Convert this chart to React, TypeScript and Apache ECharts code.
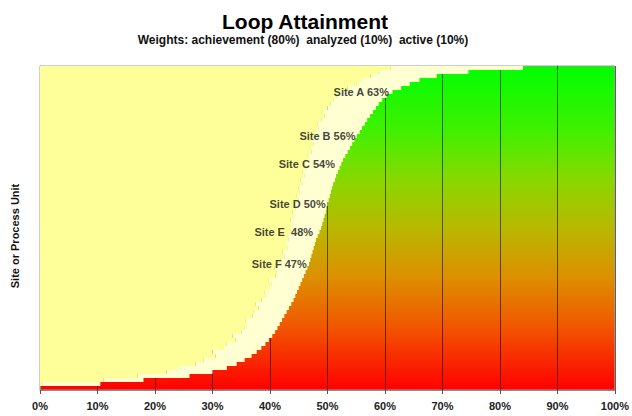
import React, { useEffect, useRef } from "react";
import * as echarts from "echarts";

// Attainment boundary per site / process unit (sorted, bottom row first), in %
const rowBoundary = [
  0, 10.5, 18, 26, 30, 32.5, 34.2, 35.6, 36.8, 37.7, 38.5, 39.2, 39.8, 40.4, 40.9,
  41.3, 41.7, 42.1, 42.5, 42.9, 43.3, 43.7, 44.1, 44.4, 44.7, 45.0, 45.3, 45.6,
  45.9, 46.2, 46.5, 46.8, 47.0, 47.2, 47.4, 47.6, 47.8, 48.0, 48.3, 48.6, 48.9,
  49.1, 49.3, 49.5, 49.7, 49.8, 50.0, 50.2, 50.4, 50.6, 50.8, 51.0, 51.3, 51.5,
  51.8, 52.1, 52.4, 52.7, 53.1, 53.5, 53.9, 54.3, 54.7, 55.1, 55.6, 56.0, 56.5,
  56.9, 57.4, 57.9, 58.4, 58.9, 59.5, 60.3, 61.3, 62.8, 64.3, 66.0, 69.0, 74.5, 84,
];
// Inner (darker yellow) part of each row, in %
const rowInner = [
  0, 0.5, 11, 17, 22, 24, 27, 28.5, 30.5, 30, 32, 32.5, 34, 33.5, 35, 35.5, 36,
  35.8, 37, 37.2, 38, 37.5, 38.5, 39.3, 39, 40, 40.2, 39.8, 41, 41.2, 40.8, 42,
  41.8, 42.5, 42.2, 43, 42.8, 43.2, 43, 43.8, 43.5, 44, 43.6, 44.2, 43.9, 44.5,
  44.3, 45, 44.6, 45.2, 45, 45.6, 45.3, 46, 45.7, 46.3, 46, 46.8, 46.5, 47.2, 47,
  47.6, 47.3, 48, 47.8, 48.5, 48.3, 49, 49.5, 49.2, 50, 50.5, 51, 51.6, 52, 53.5,
  55, 56, 57.5, 59, 61,
];

const siteLabels = ["Site A 63%", "Site B 56%", "Site C 54%", "Site D 50%", "Site E  48%", "Site F 47%"];
const siteLabelX = [60.7, 54.9, 51.3, 49.7, 47.5, 46.4];
const siteLabelRow = [74, 63, 56, 46, 39, 31];

const xTicks = [0, 10, 20, 30, 40, 50, 60, 70, 80, 90, 100];

const FONT = 'Arial, "Liberation Sans", sans-serif';

export default function App() {
  const ref = useRef<HTMLDivElement>(null);

  useEffect(() => {
    if (!ref.current) return;
    const chart = echarts.init(ref.current, undefined, { renderer: "svg" });
    const categories = rowBoundary.map((_, i) => "U" + (i + 1));
    const fringe = rowBoundary.map((b, i) => Math.max(0, +(b - rowInner[i]).toFixed(2)));

    chart.setOption({
      animation: false,
      backgroundColor: "#ffffff",
      textStyle: { fontFamily: FONT },
      graphic: [
        {
          type: "text",
          x: 305,
          y: 21,
          style: {
            text: "Loop Attainment",
            font: `bold 21px ${FONT}`,
            fill: "#000",
            align: "center",
            verticalAlign: "middle",
          },
        },
        {
          type: "text",
          x: 303,
          y: 39.5,
          style: {
            text: "Weights: achievement (80%)  analyzed (10%)  active (10%)",
            font: `bold 12px ${FONT}`,
            fill: "#111",
            align: "center",
            verticalAlign: "middle",
          },
        },
        {
          type: "text",
          x: 15,
          y: 236,
          rotation: Math.PI / 2,
          style: {
            text: "Site or Process Unit",
            font: `bold 11px ${FONT}`,
            fill: "#111",
            align: "center",
            verticalAlign: "middle",
          },
        },
      ],
      grid: {
        left: 40,
        right: 15,
        top: 66,
        bottom: 26,
        show: true,
        borderColor: "#9c9c9c",
        borderWidth: 1,
        backgroundColor: new echarts.graphic.LinearGradient(0, 0, 0, 1, [
          { offset: 0, color: "#00ff00" },
          { offset: 0.2, color: "#40f000" },
          { offset: 0.35, color: "#88d800" },
          { offset: 0.5, color: "#b8b800" },
          { offset: 0.65, color: "#dc9000" },
          { offset: 0.8, color: "#f05800" },
          { offset: 1, color: "#ff0000" },
        ]),
      },
      xAxis: {
        type: "value",
        min: 0,
        max: 100,
        interval: 10,
        axisLine: { show: true, lineStyle: { color: "#8a8a8a" } },
        axisTick: { show: true, length: 4, lineStyle: { color: "#555" } },
        axisLabel: {
          formatter: (v: number) => (xTicks.includes(v) ? v + "%" : ""),
          fontFamily: FONT,
          fontWeight: "bold",
          fontSize: 11,
          color: "#222",
          margin: 10,
        },
        splitLine: { show: true, lineStyle: { color: "rgba(0,0,0,0.55)", width: 1 } },
      },
      yAxis: {
        type: "category",
        data: categories,
        axisLine: { show: true, lineStyle: { color: "#8a8a8a" } },
        axisTick: { show: false },
        axisLabel: { show: false },
        splitLine: { show: false },
      },
      series: [
        {
          type: "bar",
          stack: "att",
          data: rowInner,
          barWidth: "100%",
          barCategoryGap: 0,
          itemStyle: { color: "#ffff99" },
          silent: true,
        },
        {
          type: "bar",
          stack: "att",
          data: fringe,
          barWidth: "100%",
          barCategoryGap: 0,
          itemStyle: { color: "#ffffd2" },
          silent: true,
        },
        {
          type: "scatter",
          symbolSize: 0,
          silent: true,
          data: siteLabels.map((t, i) => ({ value: [siteLabelX[i], siteLabelRow[i]], name: t })),
          label: {
            show: true,
            position: "left",
            distance: 0,
            formatter: (p: any) => p.name,
            fontFamily: FONT,
            fontWeight: "bold",
            fontSize: 11,
            color: "#111",
          },
          z: 5,
        },
      ],
    });

    return () => chart.dispose();
  }, []);

  return (
    <div
      ref={ref}
      style={{ position: "fixed", left: 0, top: 0, width: 632, height: 416 }}
    />
  );
}
